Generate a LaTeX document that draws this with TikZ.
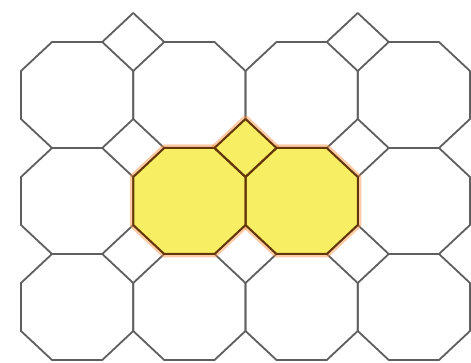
\documentclass[tikz,border=0pt]{standalone}
\usepackage{tikz}

% tiling sizes (pixel units)
\def\pw{112.25}
\def\ph{106}
\def\cx{31}
\def\cy{29}
\newcommand{\octpath}[2]{({#1+\cx},{#2}) -- ({#1+\pw-\cx},{#2}) -- ({#1+\pw},{#2+\cy}) -- ({#1+\pw},{#2+\ph-\cy}) -- ({#1+\pw-\cx},{#2+\ph}) -- ({#1+\cx},{#2+\ph}) -- ({#1},{#2+\ph-\cy}) -- ({#1},{#2+\cy}) -- cycle}
\newcommand{\sqpath}[2]{({#1},{#2-\cy}) -- ({#1+\cx},{#2}) -- ({#1},{#2+\cy}) -- ({#1-\cx},{#2}) -- cycle}

\definecolor{tilegray}{RGB}{95,95,95}
\definecolor{hlyellow}{RGB}{248,238,100}
\definecolor{hlbrown}{RGB}{100,55,10}
\definecolor{hlglow}{RGB}{255,140,60}

\tikzset{
  tile/.style={draw=tilegray, line width=1.8pt, line join=round},
  hlfill/.style={fill=hlyellow},
  hlglowline/.style={draw=hlglow, draw opacity=0.45, line width=7pt, line join=round},
  hlline/.style={draw=hlbrown, line width=2pt, line join=round}
}

\begin{document}
\begin{tikzpicture}[x=1pt,y=-1pt]
    \useasboundingbox (0,0) rectangle (471,363);
    \fill[white] (0,0) rectangle (471,363);
    % Achtecke
    \foreach \i in {0,...,3}
      \foreach \j in {0,...,2} {
        \pgfmathsetmacro{\L}{21+\i*\pw}
        \pgfmathsetmacro{\T}{42+\j*\ph}
        \draw[tile] \octpath{\L}{\T};
      }
    % obere Quadrate
    \foreach \X in {133.25,357.75}
      \draw[tile] ({\X-\cx},42) -- (\X,{42-\cy}) -- ({\X+\cx},42);
    % markierte Flaechen
    \draw[hlglowline] \octpath{133.25}{148};
    \draw[hlglowline] \octpath{245.5}{148};
    \draw[hlglowline] \sqpath{245.5}{148};
    \fill[hlfill] \octpath{133.25}{148};
    \fill[hlfill] \octpath{245.5}{148};
    \fill[hlfill] \sqpath{245.5}{148};
    \draw[hlline] \octpath{133.25}{148};
    \draw[hlline] \octpath{245.5}{148};
    \draw[hlline] \sqpath{245.5}{148};
\end{tikzpicture}
\end{document}
